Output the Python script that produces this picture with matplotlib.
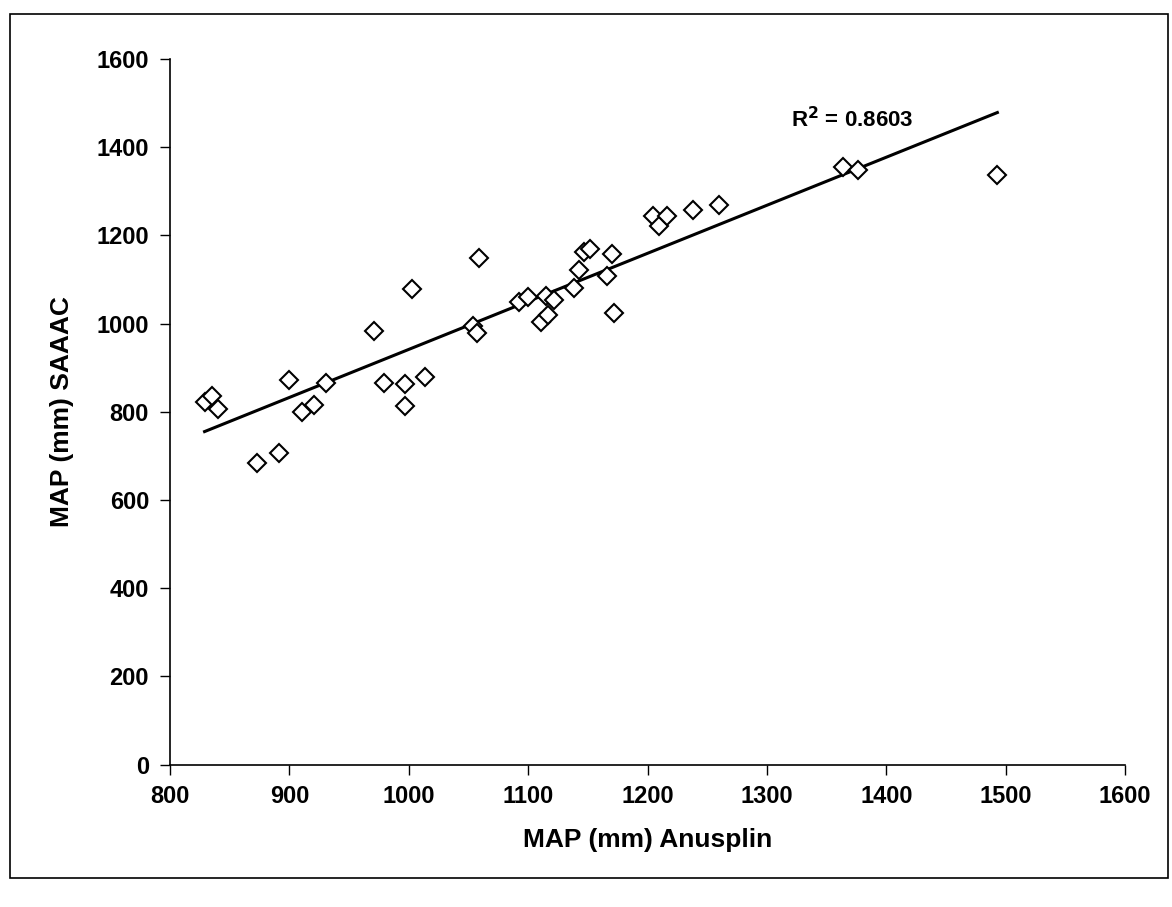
import numpy as np
import matplotlib
matplotlib.use("Agg")
import matplotlib.pyplot as plt
from matplotlib.patches import Rectangle

plt.rcParams.update({
    "font.family": ["Liberation Sans", "DejaVu Sans"],
    "font.weight": "bold",
    "font.size": 17,
})

# MAP (mm)
anusplin = [829, 835, 840, 873, 891, 900, 911, 921, 931, 971,
            979, 997, 997, 1003, 1014, 1054, 1057, 1059, 1092, 1100,
            1111, 1117, 1115, 1122, 1138, 1143, 1147, 1152, 1166, 1170,
            1172, 1205, 1210, 1216, 1238, 1260, 1364, 1376, 1493]
saaac = [823, 836, 807, 684, 707, 872, 800, 816, 866, 983,
         866, 813, 863, 1079, 879, 995, 979, 1149, 1049, 1060,
         1004, 1020, 1063, 1054, 1081, 1122, 1162, 1169, 1108, 1158,
         1024, 1244, 1221, 1244, 1258, 1269, 1355, 1348, 1337]
r2_label = r"R$^\mathbf{2}$ = 0.8603"

x_ticks = np.arange(800, 1601, 100)
y_ticks = np.arange(0, 1601, 200)

fig = plt.figure(figsize=(11.72, 9.07), dpi=100)
ax = fig.add_axes([0.145, 0.157, 0.815, 0.778])

x = np.array(anusplin, dtype=float)
y = np.array(saaac, dtype=float)
slope, intercept = np.polyfit(x, y, 1)
xf = np.array([x.min(), x.max()])
ax.plot(xf, slope * xf + intercept, color="black", lw=2.2, zorder=2)

ax.plot(x, y, linestyle="none", marker="D", markersize=9,
        markerfacecolor="white", markeredgecolor="black", markeredgewidth=1.5, zorder=3)

ax.text(1320, 1462, r2_label, fontsize=16, fontweight="bold", va="center", ha="left")

ax.set_xlim(800, 1600)
ax.set_ylim(0, 1600)
ax.set_xticks(x_ticks)
ax.set_yticks(y_ticks)
ax.spines["top"].set_visible(False)
ax.spines["right"].set_visible(False)
ax.spines["left"].set_linewidth(1.2)
ax.spines["bottom"].set_linewidth(1.2)
ax.tick_params(direction="out", length=7, width=1.0, pad=8, labelsize=17)

ax.set_xlabel("MAP (mm) Anusplin", fontsize=19, fontweight="bold", labelpad=14)
ax.set_ylabel("MAP (mm) SAAAC", fontsize=19, fontweight="bold", labelpad=16)

# chart-area border as in the scanned figure
fig.patches.append(Rectangle((10 / 1172, 1 - 878 / 907), 1158 / 1172, 864 / 907,
                             transform=fig.transFigure, fill=False,
                             edgecolor="black", lw=1.2))

fig.savefig("out.png", dpi=100)
